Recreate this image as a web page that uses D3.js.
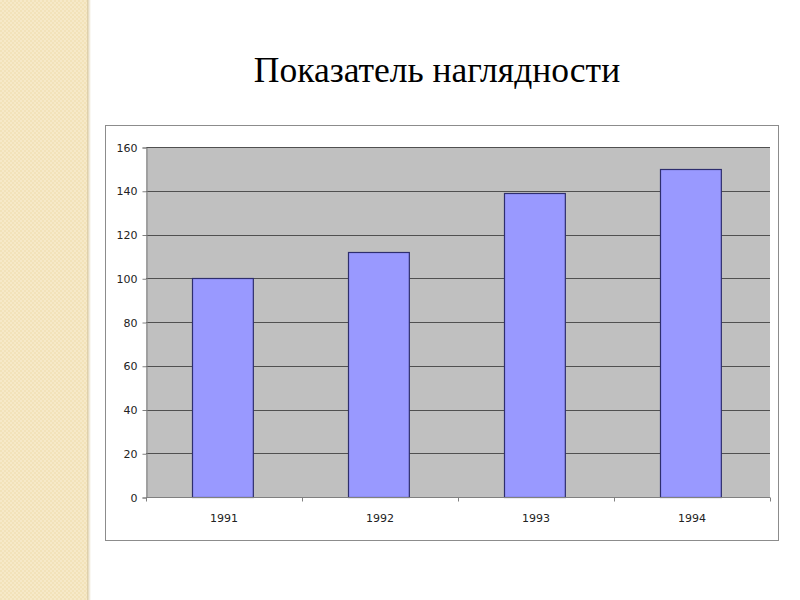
<!DOCTYPE html>
<html><head><meta charset="utf-8">
<script src="https://cdn.jsdelivr.net/npm/d3@7"></script>
<style>html,body{margin:0;padding:0;background:#fff;}</style>
</head><body>
<svg id="c" width="800" height="600"></svg>
<script>
const title = "Показатель наглядности";
const categories = ["1991", "1992", "1993", "1994"];
const values = [100, 112, 139, 150];
const yTicks = [0, 20, 40, 60, 80, 100, 120, 140, 160];

(function(){
const svg = d3.select("#c");
// decorative left band
const defs = svg.append("defs");
const pat = defs.append("pattern").attr("id","tex").attr("width",4).attr("height",4).attr("patternUnits","userSpaceOnUse");
pat.append("rect").attr("width",4).attr("height",4).attr("fill","#f2e2b9");
pat.append("rect").attr("x",0).attr("y",0).attr("width",2).attr("height",2).attr("fill","#f6e9c8");
pat.append("rect").attr("x",2).attr("y",2).attr("width",2).attr("height",2).attr("fill","#f6e9c8");
const grad = defs.append("linearGradient").attr("id","sh");
grad.append("stop").attr("offset","0").attr("stop-color","#d9c9a0");
grad.append("stop").attr("offset","1").attr("stop-color","#ffffff");
svg.append("rect").attr("x",0).attr("y",0).attr("width",87).attr("height",600).attr("fill","url(#tex)");
svg.append("rect").attr("x",87).attr("y",0).attr("width",4).attr("height",600).attr("fill","url(#sh)");

svg.append("text").attr("x",437).attr("y",82).attr("text-anchor","middle")
  .attr("font-family","'Liberation Serif','Times New Roman',serif").attr("font-size",35.5)
  .attr("fill","#000").text(title);

// chart frame
svg.append("rect").attr("x",105.5).attr("y",125.5).attr("width",673).attr("height",415)
  .attr("fill","#fff").attr("stroke","#8c8c8c").attr("stroke-width",1);

const pl = 146, pr = 770, pt = 147, pb = 497;
const x = d3.scaleBand().domain(categories).range([pl, pr]).paddingInner(0.61).paddingOuter(0.305);
const xb = d3.scaleBand().domain(categories).range([pl, pr]);
const y = d3.scaleLinear().domain([0,160]).range([pb, pt]);

svg.append("rect").attr("x",pl).attr("y",pt).attr("width",pr-pl).attr("height",pb-pt).attr("fill","#c0c0c0");

const font = "'DejaVu Sans',Verdana,sans-serif";
// gridlines
svg.append("g").selectAll("line").data(yTicks.filter(d=>d>0)).join("line")
  .attr("x1",pl).attr("x2",pr).attr("y1",d=>Math.round(y(d))+0.5).attr("y2",d=>Math.round(y(d))+0.5)
  .attr("stroke","#505050").attr("stroke-width",1);

// bars
svg.append("g").selectAll("rect").data(values).join("rect")
  .attr("x",(d,i)=>Math.floor(x(categories[i]))-0.5).attr("y",d=>Math.round(y(d))+0.5)
  .attr("width",x.bandwidth()).attr("height",d=>pb-Math.round(y(d)))
  .attr("fill","#9999ff").attr("stroke","#2e2e6e").attr("stroke-width",1.2);

// y axis
const ya = d3.axisLeft(y).tickValues(yTicks).tickSize(4).tickPadding(5);
const gy = svg.append("g").attr("transform",`translate(${pl+0.5},0.5)`).call(ya);
gy.select(".domain").attr("stroke","#808080");
gy.selectAll(".tick line").attr("stroke","#808080");
gy.selectAll("text").attr("font-family",font).attr("font-size",11).attr("fill","#222");

// x axis
const gx = svg.append("g").attr("transform",`translate(0,${pb+0.5})`);
gx.append("line").attr("x1",pl).attr("x2",pr).attr("stroke","#808080");
gx.selectAll("line.t").data(d3.range(categories.length+1)).join("line").attr("class","t")
  .attr("x1",i=>Math.round(pl + i*xb.step())+0.5).attr("x2",i=>Math.round(pl + i*xb.step())+0.5)
  .attr("y1",0).attr("y2",4).attr("stroke","#808080");
gx.selectAll("text").data(categories).join("text")
  .attr("x",d=>xb(d)+xb.bandwidth()/2).attr("y",24).attr("text-anchor","middle")
  .attr("font-family",font).attr("font-size",11).attr("fill","#222").text(d=>d);
})();
</script>
</body></html>
